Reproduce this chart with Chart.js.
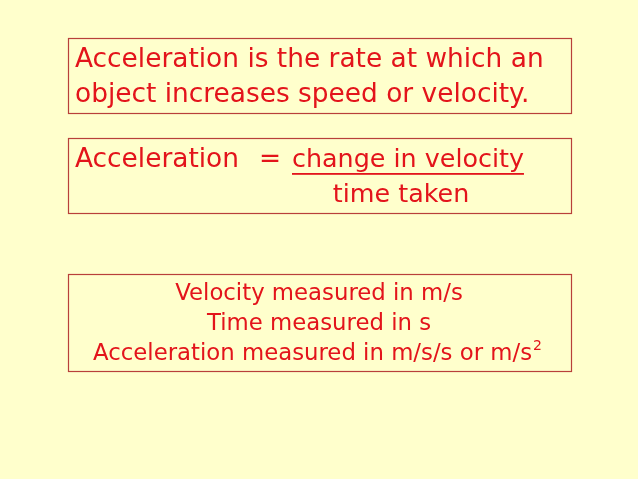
<!DOCTYPE html>
<html>
<head>
<meta charset="utf-8">
<script src="https://cdn.jsdelivr.net/npm/chart.js@4.4.1/dist/chart.umd.min.js"></script>
<style>
  html, body { margin: 0; padding: 0; background: #ffffcc; }
  #wrap { width: 638px; height: 479px; position: relative; }
</style>
</head>
<body>
<div id="wrap">
  <canvas id="slide">
    Acceleration is the rate at which an object increases speed or velocity.
    Acceleration = change in velocity / time taken.
    Velocity measured in m/s. Time measured in s. Acceleration measured in m/s/s or m/s2.
  </canvas>
</div>
<script>
// text of the slide
const definitionLines = ['Acceleration is the rate at which an', 'object increases speed or velocity.'];
const formulaLeft = 'Acceleration';
const formulaSign = '=';
const formulaTop = 'change in velocity';
const formulaBottom = 'time taken';
const unitLines = ['Velocity measured in m/s', 'Time measured in s', 'Acceleration measured in m/s/s or m/s'];
const unitSuperscript = '2';

// layout in slide units (same as pixels of the 638x479 slide)
const boxes = [
  { x0: 68, y0: 38, x1: 571, y1: 113 },
  { x0: 68, y0: 138, x1: 571, y1: 213 },
  { x0: 68, y0: 274, x1: 571, y1: 371 }
];

const RED = '#e3141b';
const BORDER = '#b8403a';
const FONT = '"DejaVu Sans", sans-serif';
const BIG = '26.4px ' + FONT;
const FRACTION = '25.4px ' + FONT;
const SMALL = '22.8px ' + FONT;
const SUP = '14px ' + FONT;

const slidePlugin = {
  id: 'slide',
  afterDraw(chart) {
    const { ctx, scales } = chart;
    const px = v => scales.x.getPixelForValue(v);
    const py = v => scales.y.getPixelForValue(v);

    ctx.save();
    ctx.strokeStyle = BORDER;
    ctx.lineWidth = 1.2;
    boxes.forEach(b => {
      ctx.strokeRect(Math.round(px(b.x0)) + 0.5, Math.round(py(b.y0)) + 0.5,
        px(b.x1) - px(b.x0), py(b.y1) - py(b.y0));
    });

    ctx.fillStyle = RED;
    ctx.textBaseline = 'alphabetic';

    // box 1
    ctx.font = BIG;
    ctx.textAlign = 'left';
    ctx.fillText(definitionLines[0], px(75), py(67));
    ctx.fillText(definitionLines[1], px(75), py(102));

    // box 2
    ctx.fillText(formulaLeft, px(75), py(167));
    ctx.fillText(formulaSign, px(259), py(167));
    ctx.font = FRACTION;
    ctx.fillText(formulaTop, px(292), py(167));
    const topW = ctx.measureText(formulaTop).width;
    ctx.fillRect(px(292), py(173), topW, 1.8);
    ctx.textAlign = 'center';
    ctx.fillText(formulaBottom, px(401), py(202));

    // box 3
    ctx.font = SMALL;
    ctx.fillText(unitLines[0], px(319), py(300));
    ctx.fillText(unitLines[1], px(319), py(330));
    const mainW = ctx.measureText(unitLines[2]).width;
    ctx.font = SUP;
    const supW = ctx.measureText(unitSuperscript).width;
    const startX = px(317) - (mainW + supW) / 2;
    ctx.textAlign = 'left';
    ctx.font = SMALL;
    ctx.fillText(unitLines[2], startX, py(360));
    ctx.font = SUP;
    ctx.fillText(unitSuperscript, startX + mainW + 1, py(350));
    ctx.restore();
  }
};

new Chart(document.getElementById('slide').getContext('2d'), {
  type: 'scatter',
  data: { datasets: [{ data: [] }] },
  options: {
    responsive: true,
    maintainAspectRatio: false,
    animation: false,
    layout: { padding: 0 },
    plugins: { legend: { display: false }, tooltip: { enabled: false } },
    scales: {
      x: { type: 'linear', min: 0, max: 638, display: false },
      y: { type: 'linear', min: 0, max: 479, reverse: true, display: false }
    }
  },
  plugins: [slidePlugin]
});
</script>
</body>
</html>
